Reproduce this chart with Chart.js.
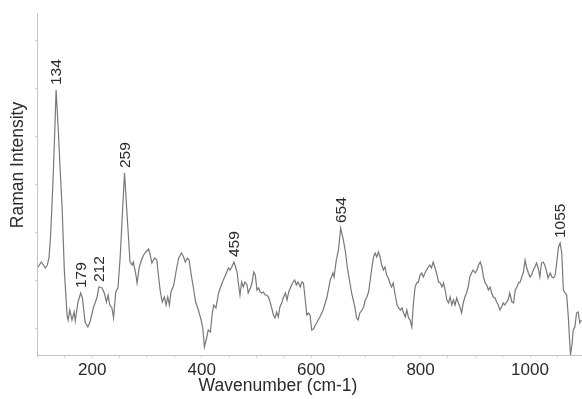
<!DOCTYPE html>
<html>
<head>
<meta charset="utf-8">
<script src="https://cdn.jsdelivr.net/npm/chart.js@4.4.1/dist/chart.umd.min.js"></script>
<style>
  html, body { margin: 0; padding: 0; background: #ffffff; }
  #wrap { width: 582px; height: 399px; }
</style>
</head>
<body>
<div id="wrap"><canvas id="spectrum" width="582" height="399"></canvas></div>
<script>
// Raman spectrum: wavenumber (cm-1) and intensity (arbitrary units)
const wavenumbers = [
  101,107,111,114,118,121,124,128,131,134,
  138,141,145,149,154,156,159,163,167,169,
  174,179,182,187,192,196,202,209,212,218,
  222,226,229,232,236,239,243,247,251,255,
  259,266,269,273,275,279,282,286,290,294,
  298,303,306,309,314,318,321,324,328,332,
  335,338,341,344,349,353,358,363,367,370,
  374,377,381,385,389,394,399,402,405,409,
  412,416,419,422,426,431,434,438,442,446,
  449,452,455,459,462,465,467,470,473,476,
  479,483,485,489,492,495,498,501,504,507,
  510,513,516,519,522,525,528,531,534,537,
  540,543,547,549,553,556,559,562,566,570,
  573,576,580,583,586,589,592,595,598,601,
  604,610,616,622,629,635,640,642,646,650,
  654,659,663,666,670,674,677,680,683,686,
  689,693,696,699,702,705,708,711,714,717,
  720,723,726,729,732,735,738,741,744,747,
  750,753,757,760,763,766,769,772,775,778,
  781,784,787,790,793,796,799,802,805,808,
  811,814,817,820,823,826,830,833,836,839,
  842,845,848,851,854,857,860,863,866,869,
  872,875,878,881,884,887,890,894,896,900,
  903,906,909,912,915,918,921,924,927,930,
  933,936,939,942,945,948,951,954,957,960,
  963,967,970,973,976,979,982,985,988,991,
  994,997,1000,1003,1006,1009,1012,1015,1018,1021,
  1024,1027,1031,1033,1037,1040,1043,1046,1049,1052,
  1055,1058,1061,1064,1067,1070,1072,1074,1077,1079,
  1082,1085,1088,1091,1094
];

const intensities = [
  109,114,111,108,111,118,141,191,236,286,
  246,211,168,106,61,56,66,56,64,55,
  74,83,78,54,49,54,68,79,89,88,
  83,74,81,71,68,58,84,88,118,161,
  203,141,114,111,114,104,93,109,116,121,
  124,127,121,113,118,116,101,86,74,79,
  71,79,71,84,91,104,118,123,119,114,
  118,116,101,88,74,66,56,48,29,38,
  46,44,61,71,68,83,88,94,99,104,
  108,106,109,114,109,103,93,81,94,89,
  94,91,83,88,93,104,101,86,88,84,
  83,84,81,81,79,74,68,61,58,64,
  59,69,74,78,83,76,84,88,93,96,
  91,94,89,94,93,78,61,63,61,46,
  47,53,59,66,79,96,103,99,116,126,
  148,136,123,109,96,83,76,69,58,56,
  63,66,69,76,79,84,96,108,119,123,
  119,124,119,111,106,109,101,98,93,89,
  93,83,71,68,66,68,63,59,66,58,
  56,49,73,89,93,94,101,103,99,103,
  106,109,111,108,114,109,101,94,93,89,
  93,86,76,73,79,71,76,71,78,73,
  69,63,73,79,83,89,99,104,106,103,
  106,111,114,109,99,93,91,86,89,83,
  79,78,74,71,66,69,73,71,74,76,
  83,74,73,86,89,93,94,99,104,116,
  108,103,99,101,106,109,113,108,99,113,
  114,111,103,98,103,99,98,101,114,129,
  133,123,86,83,81,59,39,21,33,46,
  49,63,64,53,56
];

// Annotated band positions (cm-1)
const peakLabels = [134, 179, 212, 259, 459, 654, 1055];

// Labelled wavenumber ticks
const xTickLabels = [200, 400, 600, 800, 1000];

const xTitle = 'Wavenumber (cm-1)';
const yTitle = 'Raman Intensity';

const FONT = '"Liberation Sans", Arial, Helvetica, sans-serif';
const TEXT_COLOR = '#2b2b2b';
const AXIS_COLOR = '#c4c4c4';

const points = wavenumbers.map((w, i) => ({ x: w, y: intensities[i] }));

// Axis titles and rotated band labels
const annotate = {
  id: 'annotate',
  afterDatasetsDraw(chart) {
    const ctx = chart.ctx;
    const xs = chart.scales.x, ys = chart.scales.y;
    ctx.save();
    ctx.fillStyle = TEXT_COLOR;
    ctx.font = '15.5px ' + FONT;
    peakLabels.forEach(p => {
      const i = wavenumbers.indexOf(p);
      if (i < 0) return;
      const px = xs.getPixelForValue(wavenumbers[i]);
      const py = ys.getPixelForValue(intensities[i]);
      const txt = String(p);
      const w = ctx.measureText(txt).width;
      ctx.save();
      ctx.translate(px, py - 5);
      ctx.rotate(-Math.PI / 2);
      ctx.fillStyle = '#ffffff';
      ctx.fillRect(-1, -7, w + 2, 14);
      ctx.fillStyle = TEXT_COLOR;
      ctx.textAlign = 'left';
      ctx.textBaseline = 'middle';
      ctx.fillText(txt, 0, 1);
      ctx.restore();
    });

    ctx.font = '17.5px ' + FONT;
    ctx.textAlign = 'center';
    ctx.textBaseline = 'middle';
    ctx.fillText(xTitle, 278, 386);

    ctx.save();
    ctx.translate(18, 165);
    ctx.rotate(-Math.PI / 2);
    ctx.fillText(yTitle, 0, 0);
    ctx.restore();
    ctx.restore();
  }
};

new Chart(document.getElementById('spectrum'), {
  type: 'line',
  data: {
    datasets: [{
      data: points,
      borderColor: '#787878',
      borderWidth: 1.2,
      pointRadius: 0,
      tension: 0,
      fill: false
    }]
  },
  options: {
    responsive: false,
    animation: false,
    devicePixelRatio: 1,
    layout: { padding: { top: 13, left: 0, right: 0, bottom: 0 } },
    plugins: { legend: { display: false }, tooltip: { enabled: false } },
    scales: {
      x: {
        type: 'linear',
        min: 100,
        max: 1095,
        border: { color: AXIS_COLOR, width: 1 },
        grid: { drawOnChartArea: false, drawTicks: true, tickLength: 3, color: '#d6d6d6' },
        ticks: {
          stepSize: 50,
          includeBounds: false,
          autoSkip: false,
          maxRotation: 0,
          padding: 2,
          color: TEXT_COLOR,
          font: { family: FONT, size: 17 },
          callback: v => xTickLabels.includes(v) ? String(v) : ''
        },
        afterFit(scale) { scale.height = 44; }
      },
      y: {
        type: 'linear',
        min: 21,
        max: 363,
        border: { color: AXIS_COLOR, width: 1 },
        grid: { drawOnChartArea: false, drawTicks: true, tickLength: 3, color: '#d6d6d6' },
        ticks: { stepSize: 48, includeBounds: false, display: false },
        afterFit(scale) { scale.width = 37.5; }
      }
    }
  },
  plugins: [annotate]
});
</script>
</body>
</html>
